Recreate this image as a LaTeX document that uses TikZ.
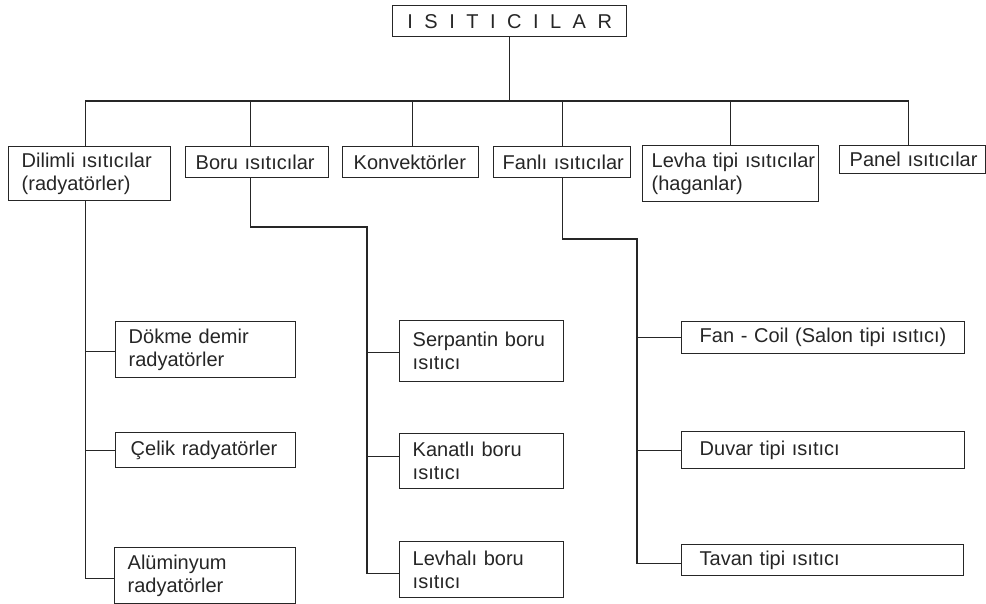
\documentclass[tikz,border=0pt]{standalone}
\usepackage{fontspec}
\setmainfont{Liberation Sans}
\definecolor{ink}{HTML}{262626}
\begin{document}
\begin{tikzpicture}[x=1pt,y=-1pt,
  box/.style={draw=ink, line width=1.4pt, anchor=north west, inner ysep=0pt,
    align=left, font=\fontsize{20}{23}\selectfont, text=ink},
  conn/.style={draw=ink, line width=1.4pt}]
\fill[white] (0,0) rectangle (986,604);
\useasboundingbox (0,0) rectangle (986,604);
% title
\node[draw=ink, line width=1.4pt, anchor=north west, minimum width=234pt, minimum height=31pt, inner sep=0pt,
  font=\fontsize{20}{23}\selectfont, text=ink] (title) at (392,5)
  {I\hspace{11.5pt}S\hspace{11.5pt}I\hspace{11.5pt}T\hspace{11.5pt}I\hspace{11.5pt}C\hspace{11.5pt}I\hspace{11.5pt}L\hspace{11.5pt}A\hspace{11.5pt}R};
% level 1
\node[box, inner xsep=13pt, text width=136pt, minimum height=54pt] (dil) at (8,146) {Dilimli~ısıtıcılar\\(radyatörler)};
\node[box, inner xsep=10pt, text width=123pt, minimum height=31pt] (boru) at (185,146) {Boru~ısıtıcılar};
\node[box, inner xsep=11pt, text width=114pt, minimum height=31pt] (konv) at (342,146) {Konvektörler};
\node[box, inner xsep=9pt, text width=119pt, minimum height=31pt] (fan) at (493,146) {Fanlı~ısıtıcılar};
\node[box, inner xsep=9pt, text width=158pt, minimum height=56pt] (lev) at (642,145) {Levha~tipi~ısıtıcılar\\(haganlar)};
\node[box, inner xsep=10pt, text width=126pt, minimum height=28pt] (pan) at (839,145) {Panel~ısıtıcılar};
% level 2 - dilimli
\node[box, inner xsep=13pt, text width=154pt, minimum height=56pt] (dok) at (115,321) {Dökme~demir\\radyatörler};
\node[box, inner xsep=15pt, text width=150pt, minimum height=35pt] (cel) at (115,432) {Çelik~radyatörler};
\node[box, inner xsep=13pt, text width=155pt, minimum height=56pt] (alu) at (114,547) {Alüminyum\\radyatörler};
% level 2 - boru
\node[box, inner xsep=13pt, text width=138pt, minimum height=61pt] (ser) at (399,320) {Serpantin~boru\\ısıtıcı};
\node[box, inner xsep=13pt, text width=138pt, minimum height=55pt] (kan) at (399,433) {Kanatlı~boru\\ısıtıcı};
\node[box, inner xsep=13pt, text width=138pt, minimum height=56pt] (lvb) at (399,541) {Levhalı~boru\\ısıtıcı};
% level 2 - fanli
\node[box, inner xsep=18pt, text width=247pt, minimum height=32pt] (fc) at (681,321) {Fan~-~Coil~(Salon~tipi~ısıtıcı)};
\node[box, inner xsep=18pt, text width=247pt, minimum height=37pt] (duv) at (681,431) {Duvar~tipi~ısıtıcı};
\node[box, inner xsep=18pt, text width=246pt, minimum height=31pt] (tav) at (681,544) {Tavan~tipi~ısıtıcı};
% coordinates
\coordinate (bus) at (title.south |- 0,101);
\coordinate (dstem) at ([xshift=-4pt]dil.south);
\coordinate (bstem) at ([xshift=-6.5pt]boru.south);
\coordinate (bturn) at (367,227);
\coordinate (fstem) at (fan.south);
\coordinate (fturn) at (637,239);
% top connectors
\draw[conn] (title.south) -- (bus);
\draw[conn] ([xshift=-4pt]dil.north) |- (bus) -| ([xshift=-4pt]pan.north);
\draw[conn] ([xshift=-6.5pt]boru.north) -- ([xshift=-6.5pt]boru.north |- bus);
\draw[conn] ([xshift=2pt]konv.north) -- ([xshift=2pt]konv.north |- bus);
\draw[conn] (fan.north) -- (fan.north |- bus);
\draw[conn] (lev.north) -- (lev.north |- bus);
% dilimli branch
\draw[conn] (dstem) |- ([yshift=-3pt]alu.west);
\draw[conn] ([yshift=-2pt]dok.west) -- ([yshift=-2pt]dok.west -| dstem);
\draw[conn] (cel.west) -- (cel.west -| dstem);
% boru branch
\draw[conn] (bstem) |- (bturn) |- ([yshift=-4pt]lvb.west);
\draw[conn] ([yshift=-1.5pt]ser.west) -- ([yshift=-1.5pt]ser.west -| bturn);
\draw[conn] ([yshift=5pt]kan.west) -- ([yshift=5pt]kan.west -| bturn);
% fanli branch
\draw[conn] (fstem) |- (fturn) |- ([yshift=-3.5pt]tav.west);
\draw[conn] (fc.west) -- (fc.west -| fturn);
\draw[conn] (duv.west) -- (duv.west -| fturn);
\end{tikzpicture}
\end{document}
